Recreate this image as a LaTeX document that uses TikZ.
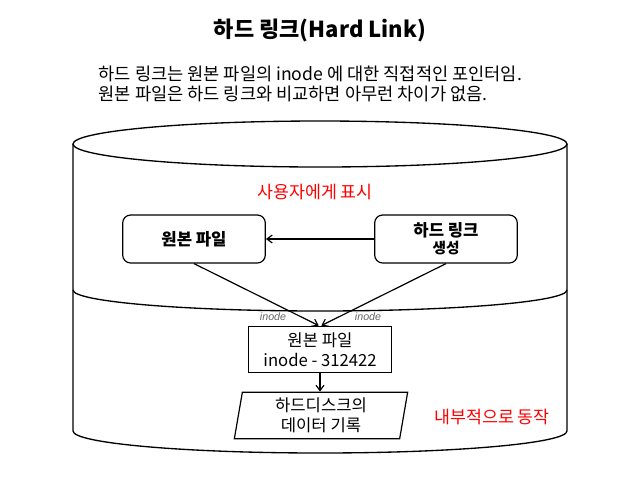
\documentclass[tikz,border=0pt]{standalone}
\usepackage{fontspec}
\setmainfont{Noto Sans CJK KR}
\newfontfamily\itfont{Liberation Sans}
\usetikzlibrary{shapes.geometric,arrows.meta}
\tikzset{
  box/.style={draw=black, line width=0.9pt, minimum width=107pt, minimum height=36pt, inner sep=1pt, font=\fontsize{12.5}{15}\selectfont, align=center},
  rbox/.style={box, rounded corners=6pt},
  para/.style={draw=black, line width=0.9pt, trapezium, trapezium left angle=78, trapezium right angle=102, minimum width=130pt, minimum height=35pt, inner sep=1pt, font=\fontsize{12.5}{15}\selectfont, align=center, trapezium stretches body},
  redlbl/.style={text=red, font=\fontsize{13}{15}\selectfont},
  inlbl/.style={text=black!60, font=\itfont\itshape\fontsize{8}{9}\selectfont},
  arr/.style={-{Straight Barb[length=4pt,width=6pt]}, line width=0.9pt},
  cyl/.style={draw=black, line width=1pt}
}
\begin{document}
\begin{tikzpicture}[x=0.75pt,y=-0.75pt]
\useasboundingbox (0,0) rectangle (640,480);
\fill[white] (0,0) rectangle (640,480);
% title
\node[font=\bfseries\fontsize{16.5}{19}\selectfont] (title) at (320,30) {하드 링크(Hard Link)};
\node[anchor=west, align=left, font=\fontsize{13.2}{15}\selectfont] (desc) at (94,84) {하드 링크는 원본 파일의 inode 에 대한 직접적인 포인터임.\\원본 파일은 하드 링크와 비교하면 아무런 차이가 없음.};
% cylinder
\draw[cyl] (73,144) -- (73,431) arc[start angle=180, end angle=0, x radius=247, y radius=22] -- (567,144);
\draw[cyl] (320,144) ellipse[x radius=247, y radius=23];
\draw[cyl] (73,290) arc[start angle=180, end angle=0, x radius=247, y radius=21];
% labels
\node[redlbl] (top) at (315,192) {사용자에게 표시};
\node[redlbl] (bot) at (492,417) {내부적으로 동작};
% boxes
\node[rbox] (orig) at (194,239) {\bfseries 원본 파일};
\node[rbox] (hard) at (446,239) {\bfseries 하드 링크\\[-2pt]{\bfseries\fontsize{11}{13}\selectfont 생성}};
\node[box, minimum width=107pt, minimum height=35pt] (inode) at (320,349.5) {원본 파일\\inode - 312422};
\node[para] (disk) at (321,415.5) {하드디스크의\\데이터 기록};
% connectors
\draw[arr] (hard.west) -- (orig.east);
\draw[arr] (orig.south) -- ([xshift=-1pt]inode.north);
\draw[arr] (hard.south) -- ([xshift=1pt]inode.north);
\draw[arr] (inode.south) -- (disk.north -| inode.south);
\node[inlbl] (in1) at (273,317) {inode};
\node[inlbl] (in2) at (368,317) {inode};
\end{tikzpicture}
\end{document}
